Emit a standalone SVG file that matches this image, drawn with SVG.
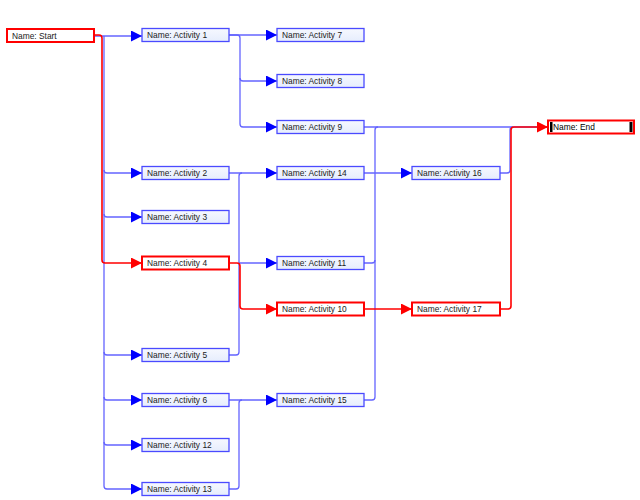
<svg xmlns="http://www.w3.org/2000/svg" width="640" height="500" viewBox="0 0 640 500">
<defs>
<linearGradient id="bg" x1="0" y1="0" x2="0" y2="1">
<stop offset="0" stop-color="#f6f8ff"/>
<stop offset="1" stop-color="#e6edfd"/>
</linearGradient>
<marker id="ab" markerUnits="userSpaceOnUse" markerWidth="11" markerHeight="11" refX="10" refY="5" orient="auto" viewBox="0 0 10 10">
<path d="M0,0 L10,5 L0,10 z" fill="#0000ff"/>
</marker>
<marker id="ar" markerUnits="userSpaceOnUse" markerWidth="11" markerHeight="11" refX="10" refY="5" orient="auto" viewBox="0 0 10 10">
<path d="M0,0 L10,5 L0,10 z" fill="#ff0000"/>
</marker>
</defs>
<style>
.n rect.b{fill:url(#bg);stroke:#4a4aff;stroke-width:1.3}
.r rect.b{fill:#ffffff;stroke:#ff0000;stroke-width:2}
text{font-family:"Liberation Sans","DejaVu Sans",Arial,sans-serif;font-size:8.4px;fill:#1a1a1a}
.cb{fill:none;stroke:#6464ff;stroke-width:1.3}
.cr{fill:none;stroke:#ff0000;stroke-width:1.6}
</style>
<rect width="640" height="500" fill="#ffffff"/>
<g id="connectors">
<path class="cb" d="M94,36 H142" marker-end="url(#ab)"/>
<path class="cb" d="M104,36 V486 Q104,489 107,489 H142" marker-end="url(#ab)"/>
<path class="cb" d="M104,170 Q104,173 107,173 H142" marker-end="url(#ab)"/>
<path class="cb" d="M104,214 Q104,217 107,217 H142" marker-end="url(#ab)"/>
<path class="cb" d="M104,352 Q104,355 107,355 H142" marker-end="url(#ab)"/>
<path class="cb" d="M104,397 Q104,400 107,400 H142" marker-end="url(#ab)"/>
<path class="cb" d="M104,442 Q104,445 107,445 H142" marker-end="url(#ab)"/>
<path class="cb" d="M229,35 H277" marker-end="url(#ab)"/>
<path class="cb" d="M229,35 H237 Q240,35 240,38 V124 Q240,127 243,127 H277" marker-end="url(#ab)"/>
<path class="cb" d="M240,78 Q240,81 243,81 H277" marker-end="url(#ab)"/>
<path class="cb" d="M364,127 H548"/>
<path class="cb" d="M364,400 H372 Q375,400 375,397 V130 Q375,127 378,127"/>
<path class="cb" d="M364,263 H372 Q375,263 375,260"/>
<path class="cb" d="M500,173 H507 Q510,173 510,170 V130 Q510,127 513,127"/>
<path class="cb" d="M229,173 H277" marker-end="url(#ab)"/>
<path class="cb" d="M229,355 H236 Q239,355 239,352 V176 Q239,173 242,173"/>
<path class="cb" d="M239,263 H277" marker-end="url(#ab)"/>
<path class="cb" d="M364,173 H412" marker-end="url(#ab)"/>
<path class="cb" d="M229,400 H277" marker-end="url(#ab)"/>
<path class="cb" d="M229,489 H236 Q239,489 239,486 V403 Q239,400 242,400"/>
<path class="cr" d="M94,35 H99 Q102,35 102,38 V260 Q102,263 105,263 H142" marker-end="url(#ar)"/>
<path class="cr" d="M229,263 H237 Q240,263 240,266 V306 Q240,309 243,309 H277" marker-end="url(#ar)"/>
<path class="cr" d="M364,309 H412" marker-end="url(#ar)"/>
<path class="cr" d="M500,309 H508 Q511,309 511,306 V130 Q511,127 514,127 H548" marker-end="url(#ar)"/>
</g>
<g id="start" class="r"><rect class="b" x="7" y="29" width="87" height="13"/><text x="12" y="38.5">Name: Start</text></g>
<g id="a1" class="n"><rect class="b" x="142" y="28.5" width="87" height="13"/><text x="147" y="38">Name: Activity 1</text></g>
<g id="a7" class="n"><rect class="b" x="277" y="28.5" width="87" height="13"/><text x="282" y="38">Name: Activity 7</text></g>
<g id="a8" class="n"><rect class="b" x="277" y="74.5" width="87" height="13"/><text x="282" y="84">Name: Activity 8</text></g>
<g id="a9" class="n"><rect class="b" x="277" y="120.5" width="87" height="13"/><text x="282" y="130">Name: Activity 9</text></g>
<g id="end" class="r"><rect class="b" x="548" y="120.5" width="86" height="13"/><rect x="550" y="122" width="2.5" height="10" fill="#000"/><rect x="629.5" y="122" width="3" height="10" fill="#000"/><text x="553" y="130" style="fill:#000">Name: End</text></g>
<g id="a2" class="n"><rect class="b" x="142" y="166.5" width="87" height="13"/><text x="147" y="176">Name: Activity 2</text></g>
<g id="a14" class="n"><rect class="b" x="277" y="166.5" width="87" height="13"/><text x="282" y="176">Name: Activity 14</text></g>
<g id="a16" class="n"><rect class="b" x="412" y="166.5" width="88" height="13"/><text x="417" y="176">Name: Activity 16</text></g>
<g id="a3" class="n"><rect class="b" x="142" y="210.5" width="87" height="13"/><text x="147" y="220">Name: Activity 3</text></g>
<g id="a4" class="r"><rect class="b" x="142" y="256.5" width="87" height="13"/><text x="147" y="266">Name: Activity 4</text></g>
<g id="a11" class="n"><rect class="b" x="277" y="256.5" width="87" height="13"/><text x="282" y="266">Name: Activity 11</text></g>
<g id="a10" class="r"><rect class="b" x="277" y="302.5" width="87" height="13"/><text x="282" y="312">Name: Activity 10</text></g>
<g id="a17" class="r"><rect class="b" x="412" y="302.5" width="88" height="13"/><text x="417" y="312">Name: Activity 17</text></g>
<g id="a5" class="n"><rect class="b" x="142" y="348.5" width="87" height="13"/><text x="147" y="358">Name: Activity 5</text></g>
<g id="a6" class="n"><rect class="b" x="142" y="393.5" width="87" height="13"/><text x="147" y="403">Name: Activity 6</text></g>
<g id="a15" class="n"><rect class="b" x="277" y="393.5" width="87" height="13"/><text x="282" y="403">Name: Activity 15</text></g>
<g id="a12" class="n"><rect class="b" x="142" y="438.5" width="87" height="13"/><text x="147" y="448">Name: Activity 12</text></g>
<g id="a13" class="n"><rect class="b" x="142" y="482.5" width="87" height="13"/><text x="147" y="492">Name: Activity 13</text></g>
</svg>
